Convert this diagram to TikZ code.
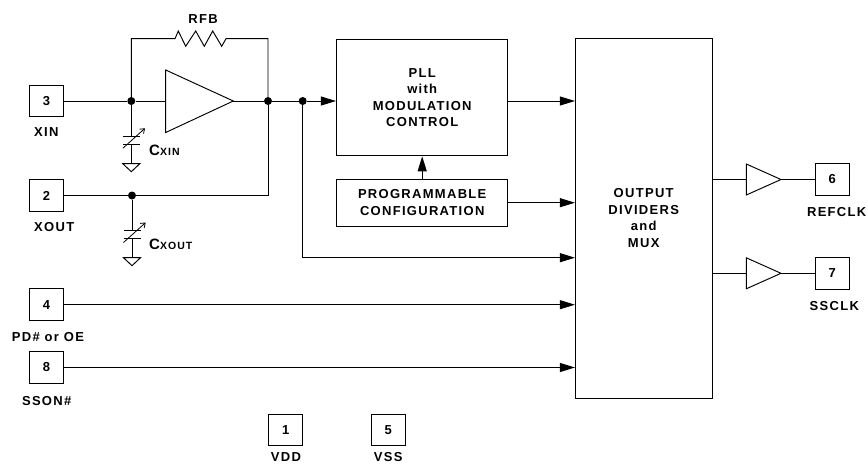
\documentclass[tikz,border=0pt]{standalone}
\usepackage{fontspec}
\setmainfont{Liberation Sans}[LetterSpace=10,BoldFont={Liberation Sans Bold}]
\usetikzlibrary{arrows.meta,positioning}
\tikzset{
  wire/.style={draw=black,line width=0.95pt},
  sig/.style={wire,-{Triangle[length=15pt,width=9pt]},shorten >=0.3pt},
  pinbox/.style={draw=black,line width=0.95pt,minimum width=34pt,minimum height=31.5pt,inner sep=0pt,font=\fontsize{13}{15}\selectfont\bfseries},
  lab/.style={font=\fontsize{13}{15}\selectfont\bfseries,inner sep=0pt,align=center},
  block/.style={draw=black,line width=0.95pt,inner sep=0pt,font=\fontsize{13}{16.6}\selectfont\bfseries,align=center},
  dot/.style={circle,fill=black,minimum size=8pt,inner sep=0pt},
  amp/.style={wire,line join=miter},
}
\newcommand{\varcap}[1]{%
  \draw[wire] ([xshift=-8.5pt,yshift=4pt]#1) -- ([xshift=8.5pt,yshift=4pt]#1);
  \draw[wire] ([xshift=-8.5pt,yshift=-4pt]#1) -- ([xshift=8.5pt,yshift=-4pt]#1);
  \draw[line width=0.8pt,-{Straight Barb[length=4pt,width=6pt]}] ([xshift=-8.5pt,yshift=-8pt]#1) -- ([xshift=13.7pt,yshift=12pt]#1);
}
\newcommand{\gndsym}[1]{%
  \draw[wire,line join=miter] ([xshift=-8.5pt]#1) -- ([xshift=8.5pt]#1) -- ([yshift=-8pt]#1) -- cycle;
}
\begin{document}
\begin{tikzpicture}[x=1pt,y=-1pt]
\useasboundingbox (0,0) rectangle (868,464);
% pins
\node[pinbox] (p3) at (46.5,101) {3};
\node[pinbox] (p2) at (46.5,195.5) {2};
\node[pinbox] (p4) at (46.5,304.7) {4};
\node[pinbox] (p8) at (46.5,367.5) {8};
\node[pinbox] (p1) at (285.7,430.2) {1};
\node[pinbox] (p5) at (388.2,430.2) {5};
\node[pinbox] (p6) at (832.2,179.5) {6};
\node[pinbox] (p7) at (832.2,273.3) {7};
% pin labels
\node[lab,anchor=west] (lxin) at (34,132.5) {XIN};
\node[lab,anchor=west] (lxout) at (34,227) {XOUT};
\node[lab] (lpd) at (48,336.7) {PD\# or OE};
\node[lab] (lsson) at (46.7,400.7) {SSON\#};
\node[lab,anchor=base] (lvdd) at (286,461) {VDD};
\node[lab,anchor=base] (lvss) at (388.2,461) {VSS};
\node[lab] (lref) at (836.7,211.7) {REFCLK};
\node[lab] (lss) at (834.3,306) {SSCLK};
\node[lab] (lrfb) at (203,19) {RFB};
\node[lab,anchor=west] (lcxin) at (149,150) {\fontsize{15}{15}\selectfont C\fontsize{10.5}{15}\selectfont XIN};
\node[lab,anchor=west] (lcxout) at (149,244.3) {\fontsize{15}{15}\selectfont C\fontsize{10.5}{15}\selectfont XOUT};
% blocks
\node[block,minimum width=171pt,minimum height=116pt] (pll) at (422.2,97.5) {PLL\\with\\MODULATION\\CONTROL};
\node[block,minimum width=171pt,minimum height=46.7pt] (prog) at (422.2,202.7) {PROGRAMMABLE\\CONFIGURATION};
\node[block,minimum width=137pt,minimum height=360pt] (big) at (644.2,218) {};
\node[lab,font=\fontsize{13}{16.6}\selectfont\bfseries] (bigt) at (643.7,218) {OUTPUT\\DIVIDERS\\and\\MUX};
% amplifier
\coordinate (ampin) at (165.7,101);
\coordinate (ampout) at (233.3,101);
\draw[amp] (165.7,70) -- (ampout) -- (165.7,132.5) -- cycle;
% output buffers
\coordinate (b6in) at (746.3,179.5);
\coordinate (b6out) at (781,179.5);
\coordinate (b7in) at (746.3,273.3);
\coordinate (b7out) at (781,273.3);
\draw[amp] (746.3,164) -- (b6out) -- (746.3,195) -- cycle;
\draw[amp] (746.3,257.8) -- (b7out) -- (746.3,288.8) -- cycle;
% junctions
\node[dot] (j1) at (131.3,101) {};
\node[dot] (j2) at (268,101) {};
\node[dot] (j3) at (302.7,101) {};
\node[dot] (j4) at (132,195.5) {};
% wires
\draw[wire] (p3) -- (j1) -- (ampin);
\draw[wire] (ampout) -- (j2) -- (j3);
\draw[sig] (j3) -- (j3-|pll.west);
\draw[wire] (p2) -- (j4) -- (268,195.5) -- (j2);
% feedback resistor
\coordinate (r1) at (175,38.7);
\coordinate (r2) at (226,38.7);
\draw[wire,line join=miter] (j1) |- (r1) -- (178.3,31) -- (185.7,46.3) -- (195.7,31) -- (204.3,46.3) -- (212.7,31) -- (221.7,46.3) -- (r2) -| (j2);
% capacitors
\coordinate (c1) at (131.3,140.3);
\coordinate (g1) at (131.3,163.7);
\coordinate (c2) at (132,234.5);
\coordinate (g2) at (132,257.7);
\draw[wire] (j1) -- ([yshift=4pt]c1);
\draw[wire] ([yshift=-4pt]c1) -- (g1);
\draw[wire] (j4) -- ([yshift=4pt]c2);
\draw[wire] ([yshift=-4pt]c2) -- (g2);
\varcap{c1}
\varcap{c2}
\gndsym{g1}
\gndsym{g2}
% signals into the output block
\coordinate (pe) at (pll.east|-j3);
\draw[sig] (pe) -- (pe-|big.west);
\draw[sig] (prog.east) -- (prog.east-|big.west);
\draw[sig] (prog.north) -- (pll.south);
\coordinate (t) at (j3|-0,257.7);
\draw[sig] (j3) -- (t) -- (t-|big.west);
\draw[sig] (p4) -- (p4-|big.west);
\draw[sig] (p8) -- (p8-|big.west);
% outputs
\draw[wire] (b6in-|big.east) -- (b6in);
\draw[wire] (b6out) -- (p6);
\draw[wire] (b7in-|big.east) -- (b7in);
\draw[wire] (b7out) -- (p7);
\end{tikzpicture}
\end{document}
